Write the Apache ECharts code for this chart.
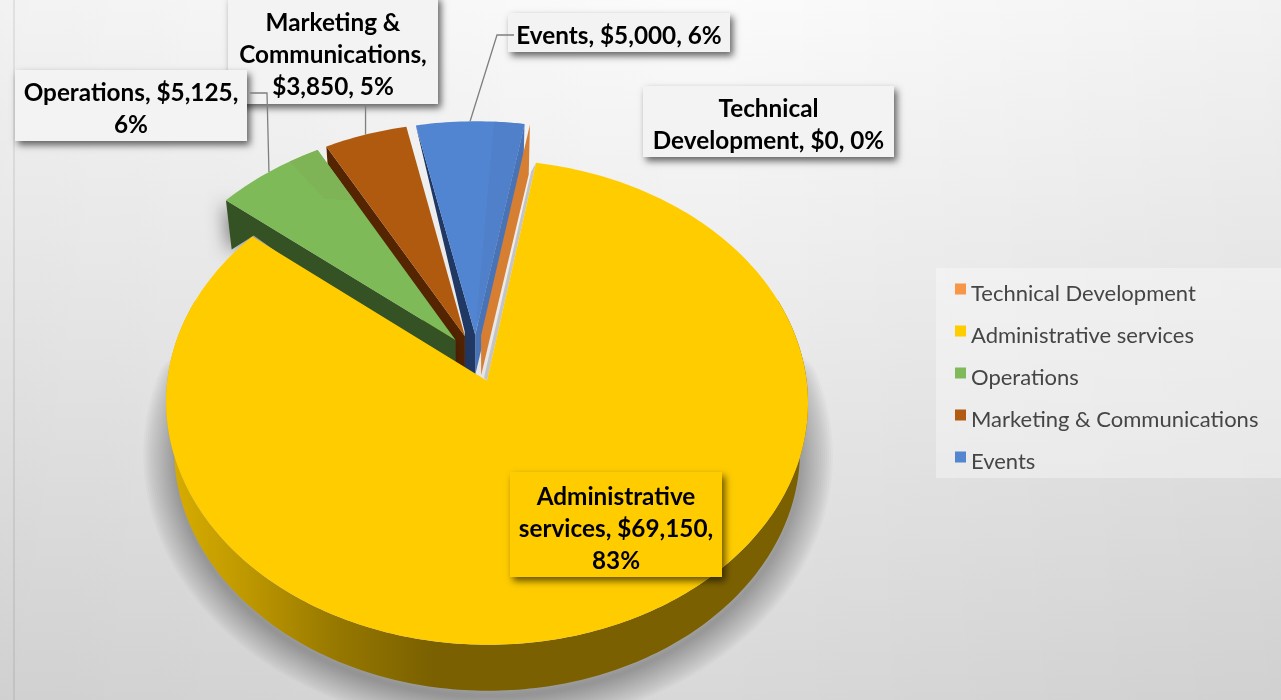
<!DOCTYPE html>
<html><head><meta charset="utf-8">
<style>html,body{margin:0;padding:0;background:#eee}#c{width:1281px;height:700px}</style>
<script src="https://cdn.jsdelivr.net/npm/echarts@6/dist/echarts.min.js"></script>
</head><body><div id="c"></div>
<script>
const categories = ['Technical Development','Administrative services','Operations','Marketing & Communications','Events'];
const amounts = [0,69150,5125,3850,5000];
const labelWrapped = ['Technical\nDevelopment, $0, 0%','Administrative\nservices, $69,150,\n83%','Operations, $5,125,\n6%','Marketing &\nCommunications,\n$3,850, 5%','Events, $5,000, 6%'];
const legendColors = ['#F79646','#FFCC00','#7FB95A','#B15A11','#5286D0'];
const topColors = ['#D67F33','#FFCC00','#7FBA59','#B05A10','#5285D1'];
const wallColors = ['#D67F33','#7A6000','#345223','#552400','#203864'];

// layout (not data)
const START = 9.8, EXPLODE = 0.1;
const CX = 475.8, CY = 358.3, RX = 317, RY = 236.5, PERSP = 0.0887;
const boxes = [[643,86,251,71],[510,472,212,105],[15,70,232,71],[228,-4,210,108],[508,13,222,39]];
const textNudge = [4,5,4,5,4];
const total = amounts.reduce((a,b)=>a+b,0);
const starts = [], ends = [];
let acc = START;
amounts.forEach((v,i)=>{starts[i]=acc; acc+=v/total*360; ends[i]=acc;});
const rad = d=>d*Math.PI/180;
function project(X,Y){const w=1+PERSP*Y;return [CX+RX*X/w, CY-RY*Y/w];}
function pt(i,deg,r){
  const m=rad((starts[i]+ends[i])/2), t=rad(deg);
  return project(EXPLODE*Math.sin(m)+r*Math.sin(t), EXPLODE*Math.cos(m)+r*Math.cos(t));
}
function low(i,deg,r){
  const a=pt(i,deg,0), p=pt(i,deg,r);
  return [p[0]-(p[0]-a[0])*0.025, p[1]+40+r*(8+2*Math.cos(rad(deg)))];
}
function face(i,a,b){
  const pts=[pt(i,a,0)];
  for(let d=a;d<b;d+=1)pts.push(pt(i,d,1));
  pts.push(pt(i,b,1));
  return pts;
}
const poly=(points,fill,extra)=>({type:'polygon',silent:true,shape:{points},style:Object.assign({fill},extra||{})});
function labelBox(i){
  const b=boxes[i];
  return [
    {type:'rect',silent:true,shape:{x:b[0],y:b[1],width:b[2],height:b[3]},
     style:{fill:i===1?'#FFCC00':'#F3F3F3',shadowBlur:7,shadowOffsetX:3,shadowOffsetY:4,shadowColor:'rgba(0,0,0,0.6)'}},
    {type:'text',silent:true,style:{text:labelWrapped[i],x:b[0]+b[2]/2,y:b[1]+b[3]/2+textNudge[i],align:'center',verticalAlign:'middle',
      fontFamily:'Lato',fontWeight:'bold',fontSize:24.3,lineHeight:32,fill:'#000'}}
  ];
}
const leader=(pts)=>({type:'polyline',silent:true,shape:{points:pts},style:{fill:null,stroke:'#7F7F7F',lineWidth:1.3}});
function midOuter(i){return pt(i,(starts[i]+ends[i])/2,1);}
// soft cast shadow: stacked translucent strokes along the lower rim
function softShadow(i){
  const rim=[];
  for(let d=78;d<=282;d+=2){const p=low(i,d,1);rim.push([p[0]+1,p[1]+5]);}
  const out=[];
  for(let w=64;w>=4;w-=4){
    out.push({type:'polyline',silent:true,shape:{points:rim},style:{fill:null,stroke:'rgba(0,0,0,0.021)',lineWidth:w,lineCap:'round',lineJoin:'round'}});
  }
  return out;
}

function render(i){
  const kids=[];
  const s=starts[i],e=ends[i],A=pt(i,s,0),A2=low(i,s,0),O1=pt(i,s,1),O2=pt(i,e,1);
  if(i===0){
    kids.push(poly([O1,low(i,s,1),A2,A],wallColors[0]));
  } else if(i===1){
    kids.push(...softShadow(i));
    const pts=[];
    for(let d=70;d<=290;d+=1)pts.push(pt(i,d,1));
    for(let d=290;d>=70;d-=1)pts.push(low(i,d,1));
    kids.push(poly(pts,{type:'linear',x:167,y:0,x2:433,y2:0,global:true,colorStops:[{offset:0,color:'#D9AE00'},{offset:0.3,color:'#BE9800'},{offset:0.65,color:'#957700'},{offset:1,color:'#7A6000'}]}));
    kids.push(poly([O1,A,[A[0]-3,A[1]-3],[O1[0]-5,O1[1]+9]],'#C4C4C4'));
    kids.push(poly(face(i,s,e),topColors[i]));
  } else if(i===2){
    const L=low(i,s,1);
    kids.push(poly([O1,L,[L[0]+22,L[1]-14],A2,A],wallColors[i],{shadowBlur:18,shadowOffsetX:-3,shadowOffsetY:3,shadowColor:'rgba(0,0,0,0.45)'}));
    kids.push(poly(face(i,s,e),topColors[i]));
    const f=s+(e-s)*0.72;
    kids.push(poly([pt(i,f,1),pt(i,e,1),pt(i,e,0.72),pt(i,f,0.78)],'#7EB356'));
    const m=midOuter(i);
    kids.push(...labelBox(i));
    kids.push(leader([[250,93],[267,93],m]));
    return kids;
  } else if(i===3){
    kids.push(poly([O1,low(i,s,1),A2,A],wallColors[i]));
    kids.push(poly(face(i,s,e),topColors[i]));
  } else {
    // Events: near wall tapers towards the apex
    const K=[A[0]-10.5,A[1]-3];
    const K2=[K[0],K[1]+38];
    kids.push(poly([O2,low(i,e,1),A2,A],'#4A73B5'));
    kids.push(poly([O1,K,K2,A2,A],wallColors[i]));
    kids.push(poly(face(i,s,e),topColors[i]));
    kids.push(poly(face(i,s+(e-s)*0.72,e).slice(1).concat([pt(i,e,0.06),pt(i,s+(e-s)*0.72,0.06)]),'#4F80C9'));
  }
  kids.push(...labelBox(i));
  if(i===3){const m=midOuter(i);kids.push(leader([[m[0],104],m]));}
  if(i===4){const m=midOuter(i);kids.push(leader([[514,35],[497,35],m]));}
  return kids;
}
// back-to-front paint order; legend keeps the category order
const paintOrder=[4,0,3,2,1];
const series=paintOrder.map(i=>({
  type:'custom',name:categories[i],coordinateSystem:'none',silent:true,animation:false,
  itemStyle:{color:legendColors[i]},
  data:[[amounts[i]]],
  renderItem:()=>({type:'group',children:render(i)})
}));
const chart=echarts.init(document.getElementById('c'),null,{renderer:'canvas'});
chart.setOption({
  animation:false,
  backgroundColor:{type:'linear',x:0,y:0,x2:0,y2:1,colorStops:[{offset:0,color:'#FBFBFB'},{offset:0.5,color:'#EAEAEA'},{offset:1,color:'#D8D8D8'}]},
  graphic:[
    {type:'rect',silent:true,z:-2,shape:{x:0,y:0,width:1281,height:700},style:{fill:{type:'linear',x:0,y:0,x2:1,y2:0,colorStops:[{offset:0,color:'rgba(0,0,0,0.035)'},{offset:0.55,color:'rgba(0,0,0,0)'},{offset:1,color:'rgba(0,0,0,0.035)'}]}}},
    {type:'line',silent:true,z:-1,shape:{x1:14,y1:0,x2:14,y2:700},style:{stroke:'rgba(0,0,0,0.07)',lineWidth:2}}
  ],
  legend:{
    data:categories,orient:'vertical',left:936,top:268,
    padding:[15,30,5,19],itemGap:20,itemWidth:11,itemHeight:21,
    icon:'path://M0 0H11V11H0Z M0 21L11 21L11 21Z',
    backgroundColor:'rgba(255,255,255,0.35)',selectedMode:false,
    textStyle:{fontFamily:'Lato',fontSize:22,color:'#454545',lineHeight:22}
  },
  series
});
</script></body></html>
